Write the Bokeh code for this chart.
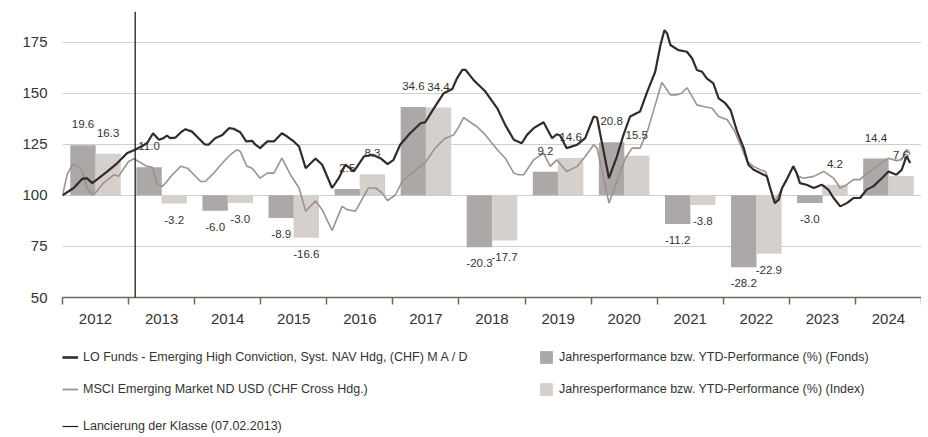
from bokeh.plotting import figure
from bokeh.layouts import column
from bokeh.models import (Range1d, FixedTicker, Span, Legend, LegendItem,
                          ColumnDataSource)
from bokeh.transform import dodge
from bokeh.core.properties import value
from bokeh.embed import file_html
from bokeh.resources import INLINE

# ---------------- data ----------------
years = [2012, 2013, 2014, 2015, 2016, 2017, 2018, 2019, 2020, 2021, 2022, 2023, 2024]
year_labels = ["2012", "2013", "2014", "2015", "2016", "2017", "2018",
               "2019", "2020", "2021", "2022", "2023", "2024"]
fund_perf = [19.6, 11.0, -6.0, -8.9, 2.5, 34.6, -20.3, 9.2, 20.8, -11.2, -28.2, -3.0, 14.4]
index_perf = [16.3, -3.2, -3.0, -16.6, 8.3, 34.4, -17.7, 14.6, 15.5, -3.8, -22.9, 4.2, 7.6]

y_ticks = [50, 75, 100, 125, 150, 175]
launch_date = 2013.10  # 07.02.2013

fund_t = [2012.00, 2012.17, 2012.30, 2012.37, 2012.45, 2012.52, 2012.68, 2012.83, 2012.98,
          2013.10, 2013.28, 2013.37, 2013.46, 2013.53, 2013.58, 2013.63, 2013.71, 2013.79,
          2013.86, 2013.96, 2014.06, 2014.15, 2014.21, 2014.31, 2014.42, 2014.52, 2014.59,
          2014.69, 2014.78, 2014.87, 2014.92, 2014.99, 2015.10, 2015.20, 2015.32, 2015.40,
          2015.50, 2015.58, 2015.68, 2015.76, 2015.83, 2015.93, 2016.08, 2016.18, 2016.28,
          2016.41, 2016.56, 2016.69, 2016.81, 2016.92, 2017.01, 2017.11, 2017.26, 2017.42,
          2017.49, 2017.62, 2017.77, 2017.90, 2017.97, 2018.05, 2018.10, 2018.22, 2018.40,
          2018.58, 2018.70, 2018.83, 2018.95, 2019.03, 2019.13, 2019.28, 2019.41, 2019.48,
          2019.53, 2019.63, 2019.79, 2019.91, 2020.04, 2020.09, 2020.16, 2020.27, 2020.39,
          2020.49, 2020.59, 2020.74, 2020.85, 2020.97, 2021.05, 2021.11, 2021.15, 2021.20,
          2021.32, 2021.45, 2021.53, 2021.60, 2021.68, 2021.75, 2021.85, 2021.93, 2022.03,
          2022.11, 2022.21, 2022.31, 2022.38, 2022.46, 2022.56, 2022.66, 2022.71, 2022.78,
          2022.84, 2022.89, 2022.96, 2023.06, 2023.11, 2023.16, 2023.26, 2023.37, 2023.49,
          2023.59, 2023.67, 2023.77, 2023.87, 2023.97, 2024.07, 2024.17, 2024.27, 2024.40,
          2024.50, 2024.62, 2024.70, 2024.77, 2024.79, 2024.83]
fund_v = [100.0, 103.6, 108.1, 108.4, 106.0, 107.7, 111.7, 115.8, 120.7,
          122.3, 125.5, 130.4, 127.2, 128.0, 129.3, 128.0, 128.3, 130.8,
          132.4, 131.2, 128.0, 125.0, 124.8, 128.0, 129.6, 132.9, 132.6,
          130.9, 126.4, 126.7, 124.8, 123.1, 126.4, 126.4, 130.4, 128.8,
          126.4, 123.9, 113.3, 115.8, 118.0, 115.0, 103.6, 108.4, 115.0,
          111.7, 119.0, 119.9, 118.2, 115.3, 117.4, 124.8, 130.4, 135.3,
          135.8, 142.6, 150.0, 152.1, 157.3, 161.4, 161.4, 156.5, 150.8,
          142.6, 134.5, 127.2, 125.5, 129.6, 132.9, 135.8, 128.0, 129.9,
          129.3, 123.1, 124.8, 128.0, 138.6, 138.1, 126.4, 108.4, 119.0,
          129.6, 138.6, 141.0, 150.8, 160.5, 173.6, 180.9, 179.3, 173.6,
          171.1, 170.3, 167.0, 161.4, 160.5, 157.3, 154.8, 147.5, 145.1,
          141.8, 131.2, 123.1, 115.0, 112.5, 110.9, 109.3, 103.6, 96.2,
          97.9, 103.6, 107.7, 114.2, 110.9, 106.0, 105.2, 103.6, 105.2,
          102.8, 98.7, 94.6, 96.2, 98.7, 98.7, 102.8, 104.4, 108.4,
          111.7, 110.1, 112.5, 119.0, 118.2, 115.8]

index_t = [2012.00, 2012.07, 2012.15, 2012.22, 2012.30, 2012.37, 2012.45, 2012.52, 2012.62,
           2012.78, 2012.85, 2012.93, 2013.00, 2013.08, 2013.15, 2013.28, 2013.36, 2013.43,
           2013.51, 2013.58, 2013.66, 2013.79, 2013.89, 2013.99, 2014.09, 2014.16, 2014.29,
           2014.44, 2014.54, 2014.64, 2014.69, 2014.79, 2014.87, 2014.99, 2015.10, 2015.20,
           2015.32, 2015.45, 2015.58, 2015.68, 2015.83, 2015.93, 2016.08, 2016.23, 2016.31,
           2016.43, 2016.63, 2016.74, 2016.84, 2016.92, 2017.04, 2017.14, 2017.29, 2017.44,
           2017.49, 2017.64, 2017.79, 2017.92, 2018.00, 2018.07, 2018.17, 2018.27, 2018.40,
           2018.58, 2018.70, 2018.83, 2018.90, 2018.98, 2019.13, 2019.28, 2019.38, 2019.48,
           2019.63, 2019.79, 2019.91, 2020.04, 2020.09, 2020.19, 2020.27, 2020.39, 2020.52,
           2020.62, 2020.74, 2020.85, 2020.97, 2021.07, 2021.15, 2021.20, 2021.30, 2021.37,
           2021.45, 2021.53, 2021.60, 2021.70, 2021.83, 2021.93, 2022.06, 2022.16, 2022.26,
           2022.36, 2022.46, 2022.56, 2022.64, 2022.71, 2022.77, 2022.81, 2022.89, 2023.06,
           2023.14, 2023.21, 2023.37, 2023.52, 2023.67, 2023.77, 2023.87, 2023.97, 2024.07,
           2024.12, 2024.22, 2024.32, 2024.42, 2024.50, 2024.62, 2024.70, 2024.77, 2024.80,
           2024.83]
index_v = [100.0, 110.1, 115.0, 114.6, 111.7, 103.6, 100.3, 102.0, 106.0,
           110.1, 109.3, 113.3, 116.6, 117.9, 116.6, 114.2, 113.8, 105.2,
           104.4, 106.8, 110.1, 114.2, 113.3, 110.1, 106.8, 106.8, 110.9,
           116.6, 119.9, 122.3, 121.5, 114.2, 113.3, 108.4, 110.9, 110.9,
           118.2, 110.1, 103.6, 92.2, 97.3, 93.0, 82.8, 94.6, 93.0,
           92.2, 103.6, 103.6, 101.1, 97.4, 100.3, 106.8, 110.9, 115.0,
           116.1, 123.1, 128.0, 129.6, 133.7, 138.1, 135.8, 133.7, 129.6,
           122.3, 118.2, 110.9, 110.1, 110.1, 117.4, 120.7, 114.2, 117.4,
           111.7, 114.2, 119.0, 124.8, 123.1, 108.4, 96.2, 106.8, 118.2,
           123.1, 123.1, 131.2, 144.3, 155.3, 151.6, 149.2, 149.2, 150.0,
           152.7, 148.3, 144.3, 143.5, 142.6, 138.6, 137.0, 132.1, 124.8,
           116.6, 114.2, 112.5, 111.7, 103.6, 97.4, 98.7, 103.6, 114.2,
           109.3, 108.4, 109.3, 111.7, 108.4, 103.6, 105.2, 107.7, 107.7,
           109.3, 111.7, 114.2, 116.6, 118.2, 117.0, 117.4, 122.3, 121.8,
           119.9]

legend_labels = ["LO Funds - Emerging High Conviction, Syst. NAV Hdg, (CHF) M A / D",
                 "Jahresperformance bzw. YTD-Performance (%) (Fonds)",
                 "MSCI Emerging Market ND USD (CHF Cross Hdg.)",
                 "Jahresperformance bzw. YTD-Performance (%) (Index)",
                 "Lancierung der Klasse (07.02.2013)"]

# ---------------- styles ----------------
FONT = "Liberation Sans"
TXT = "#333333"
FUND_LINE = "#342a2a"
INDEX_LINE = "#9d928c"
FUND_BAR = "#aca8a8"
INDEX_BAR = "#d5d0cc"
AXIS_COL = "#6b6b58"
GRID_COL = "#cfcfcf"
LAUNCH_COL = "#1e1e1e"

p = figure(width=921, height=337, x_range=Range1d(2012, 2025), y_range=Range1d(50, 190),
           output_backend="svg", toolbar_location=None,
           min_border_left=62, min_border_right=0, min_border_top=11, min_border_bottom=40)
p.extra_y_ranges = {"perf": Range1d(-40, 72)}
p.outline_line_color = None

# grid
p.xgrid.visible = False
p.ygrid.ticker = FixedTicker(ticks=y_ticks[1:])
p.ygrid.grid_line_color = GRID_COL
p.ygrid.grid_line_width = 1.2

# x axis: labels at year centres, ticks at year boundaries
xa = p.xaxis[0]
centres = [y + 0.5 for y in years]
bounds = years + [years[-1] + 1]
xa.ticker = FixedTicker(ticks=centres, minor_ticks=bounds)
xa.major_label_overrides = {c: lab for c, lab in zip(centres, year_labels)}
xa.major_tick_line_color = None
xa.major_tick_out = 0
xa.major_tick_in = 0
xa.minor_tick_line_color = AXIS_COL
xa.minor_tick_line_width = 1.5
xa.minor_tick_out = 7
xa.minor_tick_in = 0
xa.axis_line_color = AXIS_COL
xa.axis_line_width = 1.5
xa.major_label_text_font = FONT
xa.major_label_text_font_size = "15px"
xa.major_label_text_color = TXT
xa.major_label_standoff = 9

ya = p.yaxis[0]
ya.ticker = FixedTicker(ticks=y_ticks)
ya.axis_line_color = None
ya.major_tick_line_color = None
ya.minor_tick_line_color = None
ya.major_tick_out = 0
ya.major_tick_in = 0
ya.major_label_standoff = 15
ya.major_label_text_font = FONT
ya.major_label_text_font_size = "15px"
ya.major_label_text_color = TXT

# bars
src = ColumnDataSource(dict(year=years, fund=fund_perf, index=index_perf))
BW = 0.385
p.vbar(x=dodge("year", 0.31, range=p.x_range), top="fund", bottom=0, width=BW,
       source=src, y_range_name="perf", fill_color=FUND_BAR, line_color=None)
p.vbar(x=dodge("year", 0.69, range=p.x_range), top="index", bottom=0, width=BW,
       source=src, y_range_name="perf", fill_color=INDEX_BAR, line_color=None)

# lines
p.line(index_t, index_v, line_color=INDEX_LINE, line_width=1.6)
p.line(fund_t, fund_v, line_color=FUND_LINE, line_width=2.2)

# bar value labels
def add_labels(perf, shift):
    pos = [i for i, v in enumerate(perf) if v >= 0]
    neg = [i for i, v in enumerate(perf) if v < 0]
    for idx, off in ((pos, -21), (neg, 16)):
        s = ColumnDataSource(dict(x=[years[i] + shift for i in idx],
                                  y=[perf[i] for i in idx],
                                  t=[f"{perf[i]:.1f}" for i in idx]))
        p.text(x="x", y="y", text="t", source=s, y_range_name="perf", y_offset=off,
               text_align="center", text_baseline="middle",
               text_font=value(FONT), text_font_size="11.5px", text_color=TXT)

add_labels(fund_perf, 0.31)
add_labels(index_perf, 0.69)

# launch line
p.add_layout(Span(location=launch_date, dimension="height", line_color=LAUNCH_COL, line_width=1.3))

# ---------------- legend panel ----------------
lg = figure(width=921, height=100, x_range=Range1d(0, 1), y_range=Range1d(0, 1),
            output_backend="svg", toolbar_location=None,
            x_axis_location=None, y_axis_location=None,
            min_border_left=62, min_border_right=0, min_border_top=0, min_border_bottom=0)
lg.outline_line_color = None
lg.grid.visible = False
nan = float("nan")
r_fund = lg.line([nan], [nan], line_color=FUND_LINE, line_width=2.6)
r_fbar = lg.vbar(x=[nan], top=[nan], width=0.1, fill_color=FUND_BAR, line_color=None)
r_idx = lg.line([nan], [nan], line_color=INDEX_LINE, line_width=1.8)
r_ibar = lg.vbar(x=[nan], top=[nan], width=0.1, fill_color=INDEX_BAR, line_color=None)
r_launch = lg.line([nan], [nan], line_color=LAUNCH_COL, line_width=1.2)

common = dict(glyph_width=16, glyph_height=16, label_standoff=5, label_height=16,
              padding=0, margin=0, border_line_color=None, background_fill_alpha=0,
              label_text_font=FONT, label_text_font_size="12.5px", label_text_color=TXT)
leg1 = Legend(items=[LegendItem(label=lab, renderers=[r])
                     for lab, r in zip(legend_labels[:4], [r_fund, r_fbar, r_idx, r_ibar])],
              location=(0, 40), orientation="horizontal", ncols=2, spacing=16,
              label_width=439, **common)
leg2 = Legend(items=[LegendItem(label=legend_labels[4], renderers=[r_launch])],
              location=(0, 3), orientation="horizontal", **common)
lg.add_layout(leg1)
lg.add_layout(leg2)

layout = column(p, lg)
open("out.html", "w").write(file_html(layout, INLINE))
